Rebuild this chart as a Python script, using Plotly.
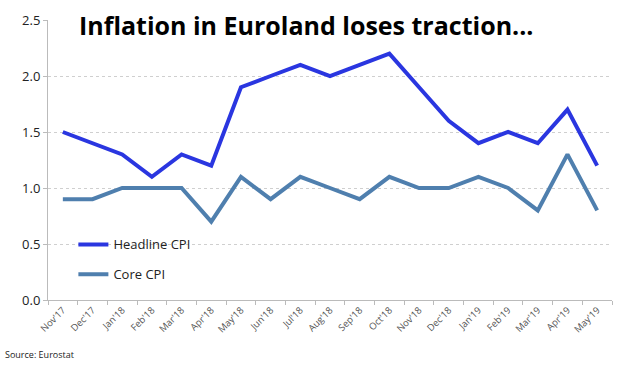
import plotly.graph_objects as go

months = ["Nov'17", "Dec'17", "Jan'18", "Feb'18", "Mar'18", "Apr'18", "May'18", "Jun'18",
          "Jul'18", "Aug'18", "Sep'18", "Oct'18", "Nov'18", "Dec'18", "Jan'19", "Feb'19",
          "Mar'19", "Apr'19", "May'19"]
headline_cpi = [1.5, 1.4, 1.3, 1.1, 1.3, 1.2, 1.9, 2.0, 2.1, 2.0, 2.1, 2.2, 1.9, 1.6, 1.4, 1.5, 1.4, 1.7, 1.2]
core_cpi = [0.9, 0.9, 1.0, 1.0, 1.0, 0.7, 1.1, 0.9, 1.1, 1.0, 0.9, 1.1, 1.0, 1.0, 1.1, 1.0, 0.8, 1.3, 0.8]
y_ticks = [0.0, 0.5, 1.0, 1.5, 2.0, 2.5]

fig = go.Figure()
fig.add_trace(go.Scatter(x=months, y=headline_cpi, mode="lines", name="Headline CPI",
                         line=dict(color="#2a36e0", width=4), legendgroup="a"))
fig.add_trace(go.Scatter(x=months, y=core_cpi, mode="lines", name="Core CPI",
                         line=dict(color="#4f7fae", width=4), legendgroup="b"))

fig.update_layout(
    width=628, height=371,
    margin=dict(l=48, r=16, t=20, b=71, autoexpand=False),
    paper_bgcolor="white", plot_bgcolor="white",
    font=dict(family="Open Sans", color="#222"),
    showlegend=True,
    legend=dict(x=0.045, y=0.252, xanchor="left", yanchor="top",
                font=dict(size=13, color="#222"), tracegroupgap=10,
                bgcolor="rgba(0,0,0,0)"),
    xaxis=dict(type="category", tickangle=-45, tickfont=dict(size=9.5, color="#555"),
               showgrid=False, showline=True, linecolor="#bbb", linewidth=1,
               ticks="outside", tickson="boundaries", ticklen=4, tickcolor="#bbb",
               range=[-0.5, len(months) - 0.5], automargin=False),
    yaxis=dict(range=[0, 2.5], tickvals=y_ticks, ticktext=[f"{v:.1f}" for v in y_ticks],
               tickfont=dict(size=13, color="#222"),
               showgrid=True, gridcolor="#cfcfcf", griddash="dot", gridwidth=1,
               showline=True, linecolor="#bbb", linewidth=1,
               ticks="outside", ticklen=4, tickcolor="#bbb", zeroline=False, automargin=False),
    annotations=[
        dict(text="<b>Inflation in Euroland loses traction...</b>", xref="paper", yref="paper",
             x=(77 - 48) / 564, y=1 - (25 - 20) / 280, xanchor="left", yanchor="middle",
             showarrow=False, font=dict(size=25, color="black", family="Open Sans")),
        dict(text="Source: Eurostat", xref="paper", yref="paper",
             x=-45 / 564, y=-(354 - 300) / 280, xanchor="left", yanchor="middle",
             showarrow=False, font=dict(size=9, color="#222")),
    ],
)

fig.write_html("out.html", config={"displayModeBar": False},
               post_script="document.body.style.margin='0';")
